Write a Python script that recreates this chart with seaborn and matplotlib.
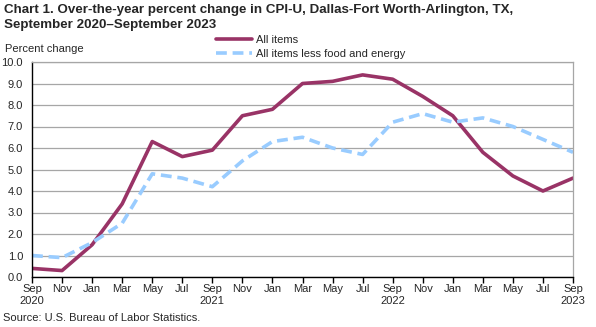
import matplotlib
matplotlib.use("Agg")
import matplotlib.pyplot as plt
import seaborn as sns
import pandas as pd
import numpy as np

months = ["Sep", "Nov", "Jan", "Mar", "May", "Jul", "Sep", "Nov", "Jan", "Mar",
          "May", "Jul", "Sep", "Nov", "Jan", "Mar", "May", "Jul", "Sep"]
tick_labels = ["Sep\n2020", "Nov", "Jan", "Mar", "May", "Jul", "Sep\n2021", "Nov", "Jan", "Mar",
               "May", "Jul", "Sep\n2022", "Nov", "Jan", "Mar", "May", "Jul", "Sep\n2023"]
all_items = [0.4, 0.3, 1.5, 3.4, 6.3, 5.6, 5.9, 7.5, 7.8, 9.0,
             9.1, 9.4, 9.2, 8.4, 7.5, 5.8, 4.7, 4.0, 4.6]
core = [1.0, 0.9, 1.6, 2.5, 4.8, 4.6, 4.2, 5.4, 6.3, 6.5,
        6.0, 5.7, 7.2, 7.6, 7.2, 7.4, 7.0, 6.4, 5.8]
series_names = ["All items", "All items less food and energy"]

sns.set_style("white")
plt.rcParams["font.family"] = ["Liberation Sans", "DejaVu Sans"]

idx = np.arange(len(months))
df = pd.DataFrame({"idx": np.concatenate([idx, idx]),
                   "value": all_items + core,
                   "series": [series_names[0]] * len(idx) + [series_names[1]] * len(idx)})

fig = plt.figure(figsize=(5.96, 3.27), dpi=100)
ax = fig.add_axes([32 / 596, 1 - 277 / 327, (573 - 32) / 596, (277 - 62) / 327])

palette = {series_names[0]: "#993366", series_names[1]: "#99CCFF"}
sns.lineplot(data=df[df.series == series_names[0]], x="idx", y="value", color=palette[series_names[0]],
             lw=2.6, ax=ax, label=series_names[0])
sns.lineplot(data=df[df.series == series_names[1]], x="idx", y="value", color=palette[series_names[1]],
             lw=2.6, ax=ax, label=series_names[1], dashes=False)
ax.lines[1].set_linestyle((0, (3, 1.6)))

ax.set_xlim(0, len(months) - 1)
ax.set_ylim(0, 10)
ax.set_yticks(np.arange(0, 10.01, 1.0))
ax.set_yticklabels([f"{v:.1f}" for v in np.arange(0, 10.01, 1.0)], fontsize=8)
ax.set_xticks(idx)
ax.set_xticklabels(tick_labels, fontsize=8, linespacing=1.2)
ax.set_xlabel("")
ax.set_ylabel("")
ax.yaxis.grid(True, color="#a6a6a6", lw=0.9)
ax.set_axisbelow(True)
for s in ["top", "right"]:
    ax.spines[s].set_visible(True)
    ax.spines[s].set_color("#a6a6a6")
    ax.spines[s].set_linewidth(0.9)
for s in ["left", "bottom"]:
    ax.spines[s].set_color("black")
    ax.spines[s].set_linewidth(1.0)
ax.tick_params(axis="x", bottom=True, length=4, width=1, color="black", pad=1, direction="out")
ax.tick_params(axis="y", left=False, pad=3)

leg = ax.legend(loc="upper left", bbox_to_anchor=(216 / 596, 1 - 35 / 327), bbox_transform=fig.transFigure,
                frameon=False, fontsize=8, handlelength=3.2, handletextpad=0.4, labelspacing=0.35,
                borderaxespad=0, borderpad=0)

fig.text(4 / 596, 1 - 4 / 327, "Chart 1. Over-the-year percent change in CPI-U, Dallas-Fort Worth-Arlington, TX,\nSeptember 2020\u2013September 2023",
         fontsize=9.6, fontweight="bold", va="top", ha="left", linespacing=1.35)
fig.text(5 / 596, 1 - 49 / 327, "Percent change", fontsize=8, va="center", ha="left")
fig.text(3 / 596, 1 - 318 / 327, "Source: U.S. Bureau of Labor Statistics.", fontsize=8, va="center", ha="left")

fig.savefig("out.png", dpi=100)
